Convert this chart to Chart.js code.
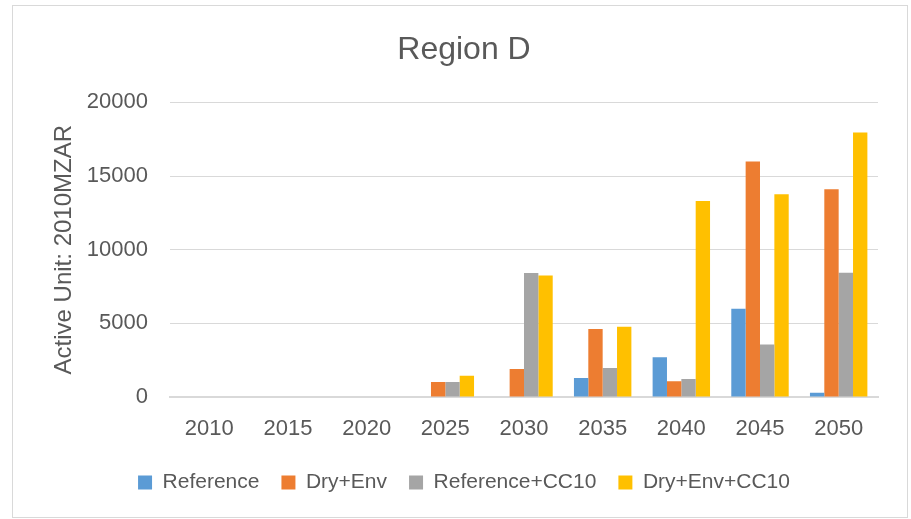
<!DOCTYPE html>
<html>
<head>
<meta charset="utf-8">
<script src="https://cdn.jsdelivr.net/npm/chart.js@4"></script>
<style>
  body { margin: 0; background: #fff; }
  #frame { position: absolute; left: 12px; top: 5px; width: 894px; height: 511px; border: 1px solid #d9d9d9; }
  #chart { position: absolute; left: 0; top: 0; }
</style>
</head>
<body>
<div id="frame"></div>
<canvas id="chart" width="911" height="519"></canvas>
<script>
// data
const years = ["2010", "2015", "2020", "2025", "2030", "2035", "2040", "2045", "2050"];
const reference = [0, 0, 0, 0, 0, 1290, 2700, 5990, 290];
const dryEnv = [0, 0, 0, 1020, 1900, 4610, 1070, 15980, 14100];
const referenceCC10 = [0, 0, 0, 1020, 8420, 1970, 1230, 3560, 8440];
const dryEnvCC10 = [0, 0, 0, 1450, 8240, 4770, 13300, 13760, 17960];
const yTicks = [0, 5000, 10000, 15000, 20000];

const FONT = "'Liberation Sans', Arial, sans-serif";
const GREY = "#595959";

var ctx = document.getElementById("chart");

new Chart(ctx, {
  type: "bar",
  data: {
    labels: years,
    datasets: [
      { label: "Reference", backgroundColor: "#5b9bd5", data: reference },
      { label: "Dry+Env", backgroundColor: "#ed7d31", data: dryEnv },
      { label: "Reference+CC10", backgroundColor: "#a5a5a5", data: referenceCC10 },
      { label: "Dry+Env+CC10", backgroundColor: "#ffc000", data: dryEnvCC10 },
    ],
  },
  options: {
    responsive: false,
    animation: false,
    layout: { padding: { left: 50, right: 33, top: 0, bottom: 16 } },
    datasets: {
      bar: { categoryPercentage: 0.73, barPercentage: 1 },
    },
    plugins: {
      title: {
        display: true,
        text: "Region D",
        color: GREY,
        font: { family: FONT, size: 32, weight: "normal" },
        padding: { top: 31, bottom: 33 },
      },
      legend: {
        position: "bottom",
        labels: {
          color: GREY,
          boxWidth: 14,
          boxHeight: 14,
          padding: 22,
          font: { family: FONT, size: 21 },
        },
      },
      tooltip: { enabled: false },
    },
    scales: {
      x: {
        afterFit: (axis) => {
          axis.height = 53;
        },
        grid: { display: false, drawTicks: false },
        border: { color: "#d9d9d9", width: 2 },
        ticks: { color: GREY, padding: 19, font: { family: FONT, size: 22 } },
      },
      y: {
        min: 0,
        max: 20000,
        afterBuildTicks: (axis) => {
          axis.ticks = yTicks.map((v) => ({ value: v }));
        },
        afterFit: (axis) => {
          axis.width = 120;
        },
        grid: { color: "#d9d9d9", drawTicks: false },
        border: { display: false },
        ticks: {
          color: GREY,
          padding: 22,
          font: { family: FONT, size: 22 },
          callback: (v) => String(v),
        },
        title: {
          display: true,
          text: "Active Unit: 2010MZAR",
          color: GREY,
          padding: { top: 0, bottom: 0 },
          font: { family: FONT, size: 24 },
        },
      },
    },
  },
});
</script>
</body>
</html>
